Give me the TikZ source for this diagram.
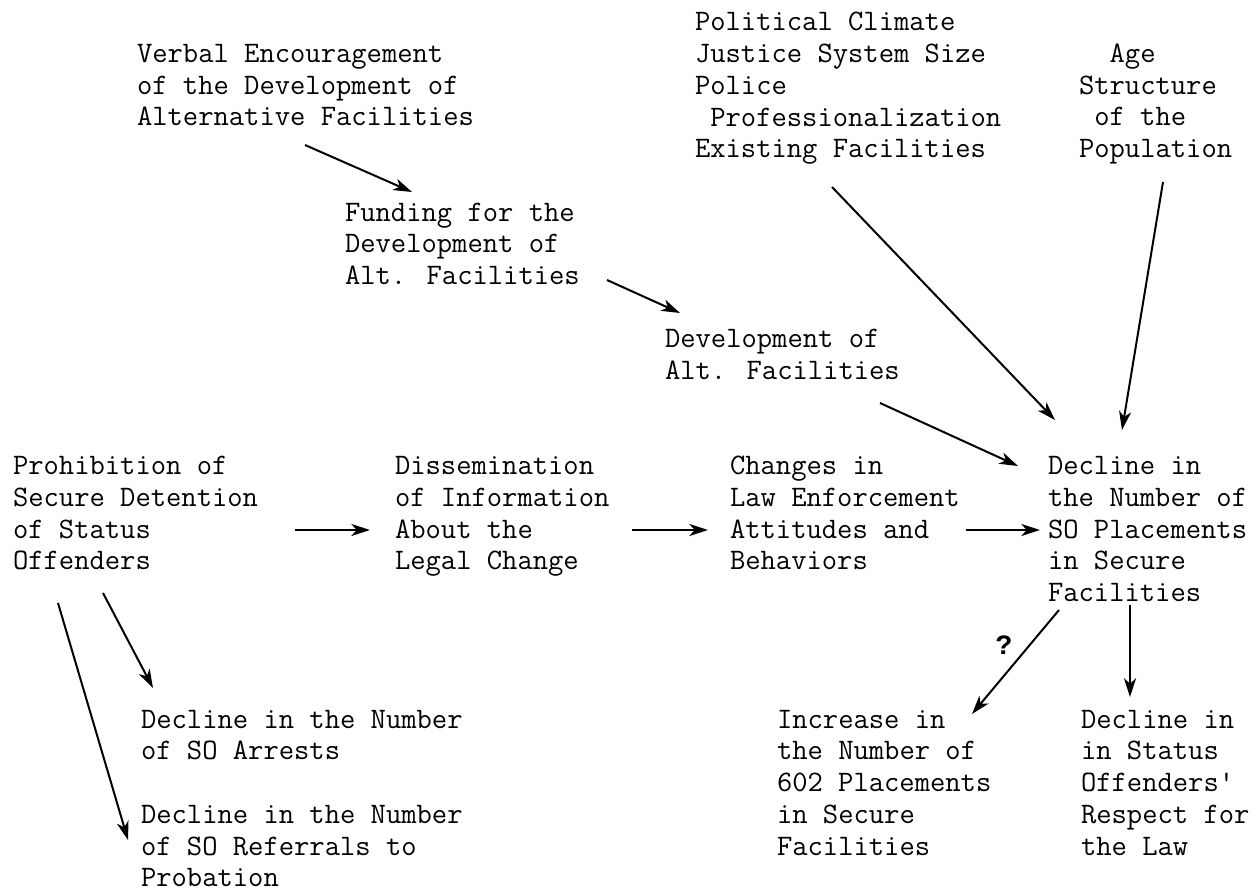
\documentclass[tikz,border=0pt]{standalone}
\usepackage{fontspec}
\newfontfamily\heavymono{Liberation Mono}
\usetikzlibrary{arrows.meta,calc}

\tikzset{every picture/.style={line width=0.75pt}}
\tikzset{
  typed/.style={anchor=north west, inner sep=0pt, outer sep=0pt, align=left,
    font=\ttfamily\fontsize{22.3}{23.8}\selectfont},
  link/.style={line width=1.5pt, -{Stealth[length=14pt,width=9pt,inset=4pt]}}
}

\begin{document}
\begin{tikzpicture}[x=0.75pt,y=0.75pt,yscale=-1,xscale=1]
	\useasboundingbox (0,0) rectangle (1260,892);

	% Text Node
	\node[typed] (political) at (695,8.6) {\strut Political Climate\\Justice System Size\\Police\\\phantom{x}Professionalization\\Existing Facilities};
	% Text Node
	\node[typed] (age) at (1079,40.3) {\strut\phantom{xx}Age\\Structure\\\phantom{x}of the\\Population};
	% Text Node
	\node[typed] (verbal) at (137,40.3) {\strut Verbal Encouragement\\of the Development of\\Alternative Facilities};
	% Text Node
	\node[typed] (funding) at (345,198.8) {\strut Funding for the\\Development of\\Alt. Facilities};
	% Text Node
	\node[typed] (devalt) at (665,325.6) {\strut Development of\\Alt. Facilities};
	% Text Node
	\node[typed] (prohibit) at (13,452.4) {\strut Prohibition of\\Secure Detention\\of Status\\Offenders};
	% Text Node
	\node[typed] (dissem) at (395,452.4) {\strut Dissemination\\of Information\\About the\\Legal Change};
	% Text Node
	\node[typed] (changes) at (730,452.4) {\strut Changes in\\Law Enforcement\\Attitudes and\\Behaviors};
	% Text Node
	\node[typed] (decline) at (1048,452.4) {\strut Decline in\\the Number of\\SO Placements\\in Secure\\Facilities};
	% Text Node
	\node[typed] (increase) at (777,706) {\strut Increase in\\the Number of\\602 Placements\\in Secure\\Facilities};
	% Text Node
	\node[typed] (respect) at (1081,706) {\strut Decline in\\in Status\\Offenders'\\Respect for\\the Law};
	% Text Node
	\node[typed] (arrests) at (141,706) {\strut Decline in the Number\\of SO Arrests};
	% Text Node
	\node[typed] (referrals) at (141,801.1) {\strut Decline in the Number\\of SO Referrals to\\Probation};
	% Text Node
	\node[typed, anchor=center, font=\heavymono\bfseries\fontsize{21}{23.8}\selectfont] (query) at (1004,645) {?};

	%Straight Lines
	\draw[link] ($(verbal.north west)+(168,104.7)$) -- ($(funding.north west)+(67,-6.8)$);
	\draw[link] ($(funding.north west)+(262,81.2)$) -- ($(devalt.north west)+(15,-12.6)$);
	\draw[link] ($(devalt.north west)+(215,77.4)$) -- ($(decline.north west)+(-30,13.6)$);
	\draw[link] ($(political.north west)+(137,178.4)$) -- ($(decline.north west)+(7,-32.4)$);
	\draw[link] ($(age.north west)+(84,141.7)$) -- ($(decline.north west)+(74,-22.4)$);
	%Straight Lines
	\draw[link] ($(prohibit.north west)+(282,77.6)$) -- ($(dissem.north west)+(-25,77.6)$);
	\draw[link] ($(dissem.north west)+(237,77.6)$) -- ($(changes.north west)+(-22,77.6)$);
	\draw[link] ($(changes.north west)+(236,77.6)$) -- ($(decline.north west)+(-8,77.6)$);
	%Straight Lines
	\draw[link] ($(decline.north west)+(11,157.6)$) -- ($(increase.north west)+(195,8)$);
	\draw[link] ($(decline.north west)+(82,152.6)$) -- ($(respect.north west)+(49,-9)$);
	\draw[link] ($(prohibit.north west)+(90,140.6)$) -- ($(arrests.north west)+(12,-18)$);
	\draw[link] ($(prohibit.north west)+(45,150.6)$) -- ($(referrals.north west)+(-13,38.9)$);

\end{tikzpicture}
\end{document}
